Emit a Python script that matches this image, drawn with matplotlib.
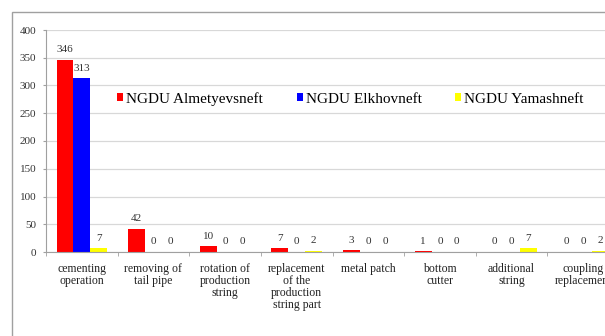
import numpy as np
from matplotlib import pyplot as plt
from matplotlib.patches import Rectangle

plt.rcParams['font.family'] = ['Liberation Serif', 'DejaVu Serif']

categories = ["cementing\noperation", "removing of\ntail pipe", "rotation of\nproduction\nstring",
              "replacement\nof the\nproduction\nstring part", "metal patch", "bottom\ncutter",
              "additional\nstring", "coupling\nreplacement"]
almetyevsk = [346, 42, 10, 7, 3, 1, 0, 0]
elkhov = [313, 0, 0, 0, 0, 0, 0, 0]
yamash = [7, 0, 0, 2, 0, 0, 7, 2]
names = ["NGDU Almetyevsneft", "NGDU Elkhovneft", "NGDU Yamashneft"]
colors = ["#ff0000", "#0000ff", "#ffff00"]

fig = plt.figure(figsize=(6.05, 3.36), dpi=100)
# outer chart frame, cut off at right and bottom like the source image
fig.patches.append(Rectangle((12 / 605, -0.1), 1.2, (336 - 12) / 336 + 0.1,
                             transform=fig.transFigure, fill=False,
                             edgecolor="#a0a0a0", linewidth=1.0))

ax = fig.add_axes([46 / 605, 84 / 336, 573 / 605, 222 / 336])
x = np.arange(len(categories))
w = 0.235
series = [almetyevsk, elkhov, yamash]
for i, (vals, name, c) in enumerate(zip(series, names, colors)):
    bars = ax.bar(x + (i - 1) * w, vals, w, color=c, label=name)
    for b, v in zip(bars, vals):
        ax.annotate(str(v), (b.get_x() + b.get_width() / 2, v), xytext=(0, 4),
                    textcoords="offset points", ha="center", va="bottom",
                    fontsize=8, color="#333333")

ax.set_xlim(-0.5, len(categories) - 0.5)
ax.set_ylim(0, 400)
ax.set_yticks(range(0, 401, 50))
ax.tick_params(axis="y", labelsize=8, length=2, color="#a0a0a0", labelcolor="#333333", pad=5)
ax.set_xticks(x)
ax.set_xticklabels(categories, fontsize=8.5, color="#222222", linespacing=1.0)
ax.tick_params(axis="x", length=0, pad=8)
ax.set_xticks(np.arange(-0.5, len(categories), 1), minor=True)
ax.tick_params(axis="x", which="minor", length=3, color="#a0a0a0")
ax.grid(axis="y", color="#d8d8d8", linewidth=0.9)
ax.set_axisbelow(True)
for s in ["top", "right"]:
    ax.spines[s].set_visible(False)
for s in ["left", "bottom"]:
    ax.spines[s].set_color("#a0a0a0")

leg = ax.legend(loc="center left", bbox_to_anchor=(0.1, 0.69), ncol=3, frameon=False,
                fontsize=11, handlelength=0.4, handleheight=0.4, handletextpad=0.2,
                columnspacing=2.2)

fig.savefig("out.png", dpi=100)
